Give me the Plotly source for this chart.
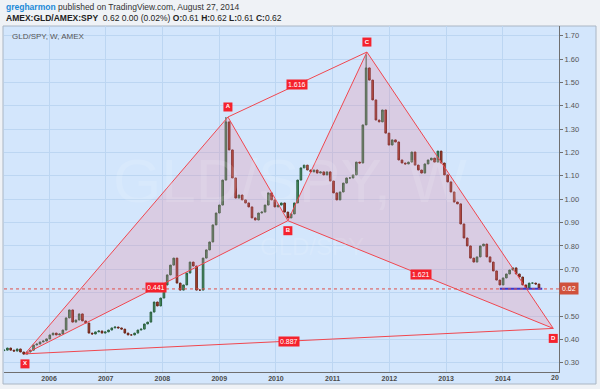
import plotly.graph_objects as go
import pandas as pd

# ---------------- data ----------------
closes = [
    0.354, 0.363, 0.354, 0.350, 0.359, 0.346, 0.337, 0.346, 0.354, 0.376,
    0.380, 0.389, 0.393, 0.402, 0.419, 0.427, 0.419, 0.423, 0.440, 0.492,
    0.526, 0.474, 0.483, 0.509, 0.479, 0.470, 0.427, 0.423, 0.432, 0.436,
    0.427, 0.432, 0.440, 0.449, 0.453, 0.449, 0.444, 0.427, 0.419, 0.419,
    0.427, 0.440, 0.444, 0.466, 0.474, 0.517, 0.560, 0.543, 0.577, 0.633,
    0.676, 0.718, 0.748, 0.641, 0.611, 0.633, 0.684, 0.731, 0.714, 0.611,
    0.611, 0.748, 0.783, 0.817, 0.890, 0.941, 0.975, 1.082, 1.331, 1.211,
    1.091, 1.005, 1.018, 0.997, 0.984, 0.967, 0.920, 0.911, 0.941, 0.945,
    0.975, 1.027, 0.997, 0.967, 0.975, 0.984, 0.945, 0.920, 0.937, 0.984,
    1.082, 1.134, 1.146, 1.125, 1.117, 1.125, 1.112, 1.117, 1.104, 1.117,
    1.078, 1.027, 0.997, 1.031, 1.069, 1.091, 1.091, 1.104, 1.159, 1.155,
    1.318, 1.562, 1.510, 1.425, 1.339, 1.331, 1.382, 1.283, 1.232, 1.254,
    1.245, 1.168, 1.155, 1.151, 1.159, 1.202, 1.146, 1.125, 1.112, 1.151,
    1.168, 1.176, 1.159, 1.206, 1.155, 1.104, 1.074, 1.031, 0.988, 0.980,
    0.894, 0.834, 0.800, 0.748, 0.731, 0.753, 0.800, 0.808, 0.753, 0.731,
    0.693, 0.654, 0.633, 0.663, 0.680, 0.697, 0.706, 0.680, 0.667, 0.633,
    0.620, 0.641, 0.641, 0.637, 0.618,
]
first_open = 0.352
spike_highs = {68: 1.352, 111: 1.620}
spike_lows = {6: 0.336}
last_date = "2014-08-22"

pattern_labels = ["X", "A", "B", "C", "D"]
pattern_dates = ["2005-07-30", "2009-02-26", "2010-03-19", "2011-08-10", "2014-11-22"]
pattern_prices = [0.338, 1.352, 0.908, 1.630, 0.447]

ratio_texts = ["0.441", "1.616", "1.621", "0.887"]
ratio_segments = [("X", "B"), ("A", "C"), ("B", "D"), ("X", "D")]

support_dates = ["2013-12-13", "2014-09-12"]
support_price = 0.617
last_price = 0.616

y_tick_vals = [0.3, 0.4, 0.5, 0.6, 0.7, 0.8, 0.9, 1.0, 1.1, 1.2, 1.3, 1.4, 1.5, 1.6, 1.7]
x_tick_years = [2006, 2007, 2008, 2009, 2010, 2011, 2012, 2013, 2014]

# ---------------- derived ----------------
dates = pd.date_range(end=last_date, periods=len(closes), freq="21D")
opens = [first_open] + closes[:-1]
highs = [max(o, c) for o, c in zip(opens, closes)]
lows = [min(o, c) for o, c in zip(opens, closes)]
for i, v in spike_highs.items():
    highs[i] = v
for i, v in spike_lows.items():
    lows[i] = v

P = {k: (pd.Timestamp(d), p) for k, d, p in zip(pattern_labels, pattern_dates, pattern_prices)}

W, H = 600, 389
L, R, T, B = 4, 41, 26, 17
PW, PH = W - L - R, H - T - B


def px(xp):
    return (xp - L) / PW


def py(yp):
    return (H - B - yp) / PH


fig = go.Figure()

RED = "#f0474f"
FILL = "rgba(238,120,150,0.24)"

# filled triangles
for tri in [("X", "A", "B"), ("B", "C", "D")]:
    xs = [P[k][0] for k in tri] + [P[tri[0]][0]]
    ys = [P[k][1] for k in tri] + [P[tri[0]][1]]
    fig.add_trace(go.Scatter(x=xs, y=ys, fill="toself", fillcolor=FILL, mode="lines",
                             line=dict(width=0), hoverinfo="skip", showlegend=False))

# candles
fig.add_trace(go.Candlestick(
    x=dates, open=opens, high=highs, low=lows, close=closes,
    increasing=dict(fillcolor="#4a9868", line=dict(color="#2b5f3e", width=1)),
    decreasing=dict(fillcolor="#b8452f", line=dict(color="#6a2418", width=1)),
    whiskerwidth=0, hoverinfo="skip", showlegend=False))

# pattern lines
segs = [("X", "A"), ("A", "B"), ("B", "X"), ("B", "C"), ("C", "D"), ("D", "B"), ("A", "C"), ("X", "D")]
lx, ly = [], []
for a, b in segs:
    lx += [P[a][0], P[b][0], None]
    ly += [P[a][1], P[b][1], None]
fig.add_trace(go.Scatter(x=lx, y=ly, mode="lines", line=dict(color=RED, width=1),
                         hoverinfo="skip", showlegend=False))

# support line
fig.add_trace(go.Scatter(x=support_dates, y=[support_price, support_price], mode="lines",
                         line=dict(color="#3a3ad0", width=2), hoverinfo="skip", showlegend=False))

# pattern point labels
off = 10 / (PH / (1.7415 - 0.2604))
lab_y = []
for k in pattern_labels:
    up = k in ("A", "C")
    lab_y.append(P[k][1] + (off if up else -off))
fig.add_trace(go.Scatter(
    x=[P[k][0] for k in pattern_labels], y=lab_y, mode="markers+text",
    marker=dict(size=9, color="#f5222d", symbol="square", line=dict(width=0)),
    text=pattern_labels, textposition="middle center",
    textfont=dict(color="white", size=6, family="Liberation Sans", weight="bold"),
    hoverinfo="skip", showlegend=False))

annotations = []
# ratio labels at segment midpoints
for txt, (a, b) in zip(ratio_texts, ratio_segments):
    xm = P[a][0] + (P[b][0] - P[a][0]) / 2
    ym = (P[a][1] + P[b][1]) / 2
    annotations.append(dict(x=xm, y=ym, xref="x", yref="y", text=txt, showarrow=False,
                            bgcolor="#f5222d", borderpad=1,
                            font=dict(color="white", size=7, family="Liberation Sans")))

# last price marker on axis
annotations.append(dict(x=1.0, xref="paper", y=last_price, yref="y", text="0.62", showarrow=False,
                        xanchor="left", bgcolor="#d0513c", borderpad=2,
                        font=dict(color="white", size=7, family="Liberation Sans")))

# header texts
annotations.append(dict(x=px(4), y=py(7), xref="paper", yref="paper", xanchor="left", yanchor="middle",
                        showarrow=False,
                        text="<span style='color:#1b8ad8'><b>gregharmon</b></span> published on TradingView.com, August 27, 2014",
                        font=dict(size=8.5, color="#333333", family="Liberation Sans")))
annotations.append(dict(x=px(4), y=py(17.5), xref="paper", yref="paper", xanchor="left", yanchor="middle",
                        showarrow=False,
                        text="<b>AMEX:GLD/AMEX:SPY</b>  0.62 0.00 (0.02%) <b>O:</b>0.61 <b>H:</b>0.62 <b>L:</b>0.61 <b>C:</b>0.62",
                        font=dict(size=8.5, color="#222222", family="Liberation Sans")))
annotations.append(dict(x=px(10), y=py(36), xref="paper", yref="paper", xanchor="left", yanchor="middle",
                        showarrow=False, text="GLD/SPY, W, AMEX",
                        font=dict(size=8, color="#555555", family="Liberation Sans")))
# clipped last year label
annotations.append(dict(x=px(555), y=py(377), xref="paper", yref="paper", xanchor="center", yanchor="middle",
                        showarrow=False, text="<b>20</b>",
                        font=dict(size=7, color="#4a4a4a", family="Liberation Sans")))
# watermark
annotations.append(dict(x=px(290), y=py(180), xref="paper", yref="paper", showarrow=False,
                        text="GLD/SPY, W", font=dict(size=62, color="rgba(255,255,255,0.12)",
                                                     family="Liberation Sans")))
annotations.append(dict(x=px(312), y=py(246), xref="paper", yref="paper", showarrow=False,
                        text="GLD/SPY", font=dict(size=24, color="rgba(255,255,255,0.12)",
                                                  family="Liberation Sans")))

shapes = [
    dict(type="rect", xref="paper", yref="paper", x0=px(3), x1=px(596), y0=py(384), y1=py(26),
         fillcolor="#d3e6fc", line=dict(color="#aab6c4", width=1), layer="below"),
    dict(type="line", xref="paper", yref="y", x0=0, x1=1, y0=last_price, y1=last_price,
         line=dict(color="#e0504a", width=1, dash="dot")),
]

fig.update_layout(
    width=W, height=H, margin=dict(l=L, r=R, t=T, b=B),
    paper_bgcolor="#eff2f6", plot_bgcolor="#d3e6fc",
    annotations=annotations, shapes=shapes, showlegend=False,
    xaxis=dict(type="date", range=["2005-03-17", "2014-12-29"], rangeslider=dict(visible=False),
               tickvals=[f"{y}-01-01" for y in x_tick_years], ticktext=[str(y) for y in x_tick_years],
               showgrid=True, gridcolor="#bcd6f2", gridwidth=1, zeroline=False,
               showline=True, linecolor="#6f6f6f", linewidth=1, ticks="",
               tickfont=dict(size=7, color="#4a4a4a", family="Liberation Sans", weight="bold")),
    yaxis=dict(range=[0.2604, 1.7415], side="right", tickvals=y_tick_vals,
               ticktext=["" if abs(v - 0.6) < 1e-9 else f"{v:.2f}" for v in y_tick_vals],
               showgrid=True, gridcolor="#bcd6f2", gridwidth=1, zeroline=False,
               showline=True, linecolor="#6f6f6f", linewidth=1, ticks="outside", ticklen=3,
               tickcolor="#6f6f6f",
               tickfont=dict(size=7.5, color="#555555", family="Liberation Sans")),
)

fig.write_html("out.html")
